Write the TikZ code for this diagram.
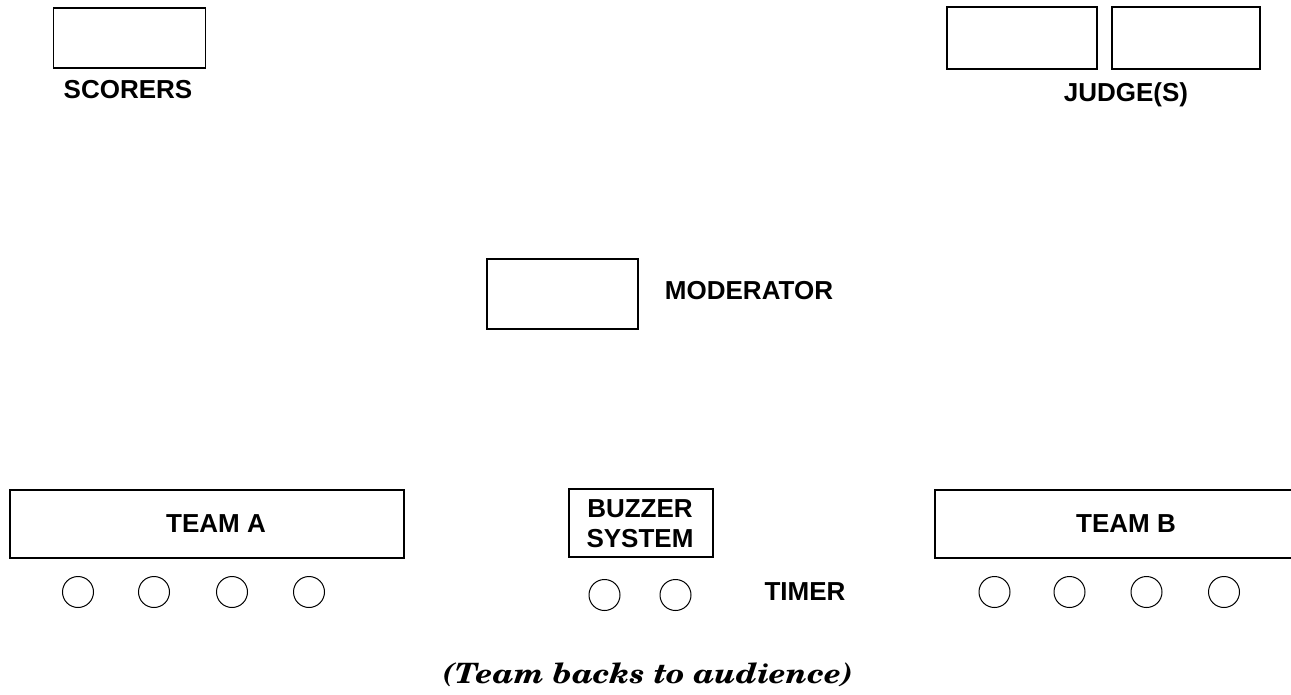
\documentclass[tikz,border=0pt]{standalone}
\usepackage{fontspec}
\newfontfamily\labfont{Liberation Sans}
\newfontfamily\capfont[FakeStretch=1.13]{TeX Gyre Schola}
\begin{document}
\begin{tikzpicture}[x=1pt,y=-1pt,
  box/.style={draw, line width=1.2pt, inner sep=0pt, outer sep=0pt},
  seat/.style={draw, circle, line width=1pt, minimum size=31pt, inner sep=0pt},
  lbl/.style={font=\labfont\bfseries\fontsize{26}{30}\selectfont, inner sep=0pt, align=center, anchor=base},
  captext/.style={font=\capfont\bfseries\itshape\fontsize{28}{32}\selectfont, inner sep=0pt, anchor=base}]
\clip (0,0) rectangle (1291,694);
% top row
\node[box, minimum width=152pt, minimum height=60pt] (scorers) at (129.5,38) {};
\node[lbl] (scorerslbl) at (128,98) {SCORERS};
\node[box, minimum width=150pt, minimum height=62pt] (judge1) at (1022,38) {};
\node[box, minimum width=148pt, minimum height=62pt] (judge2) at (1186,38) {};
\node[lbl] (judgelbl) at (1126,101) {JUDGE(S)};
% moderator
\node[box, minimum width=151pt, minimum height=70pt] (moderator) at (562.5,294) {};
\node[lbl] (moderatorlbl) at (749,299) {MODERATOR};
% bottom row
\node[box, minimum width=394pt, minimum height=68pt] (teamA) at (207,524) {};
\node[lbl] (teamAlbl) at (216,532.5) {TEAM A};
\node[box, minimum width=144pt, minimum height=68pt] (buzzer) at (641,523) {};
\node[lbl] (buzzerlbl1) at (640,517) {BUZZER};
\node[lbl] (buzzerlbl2) at (640,547) {SYSTEM};
\node[box, minimum width=385pt, minimum height=68pt] (teamB) at (1127.5,524) {};
\node[lbl] (teamBlbl) at (1126,532.5) {TEAM B};
% seats
\foreach \i/\x in {1/78,2/154,3/232,4/309} \node[seat] (a\i) at (\x,592) {};
\foreach \i/\x in {1/604.5,2/675.5} \node[seat] (t\i) at (\x,595) {};
\foreach \i/\x in {1/994.5,2/1069.5,3/1146.5,4/1224} \node[seat] (b\i) at (\x,592) {};
\node[lbl] (timer) at (805,600) {TIMER};
% caption
\node[captext] (caption) at (648,683) {(Team backs to audience)};
\end{tikzpicture}
\end{document}
